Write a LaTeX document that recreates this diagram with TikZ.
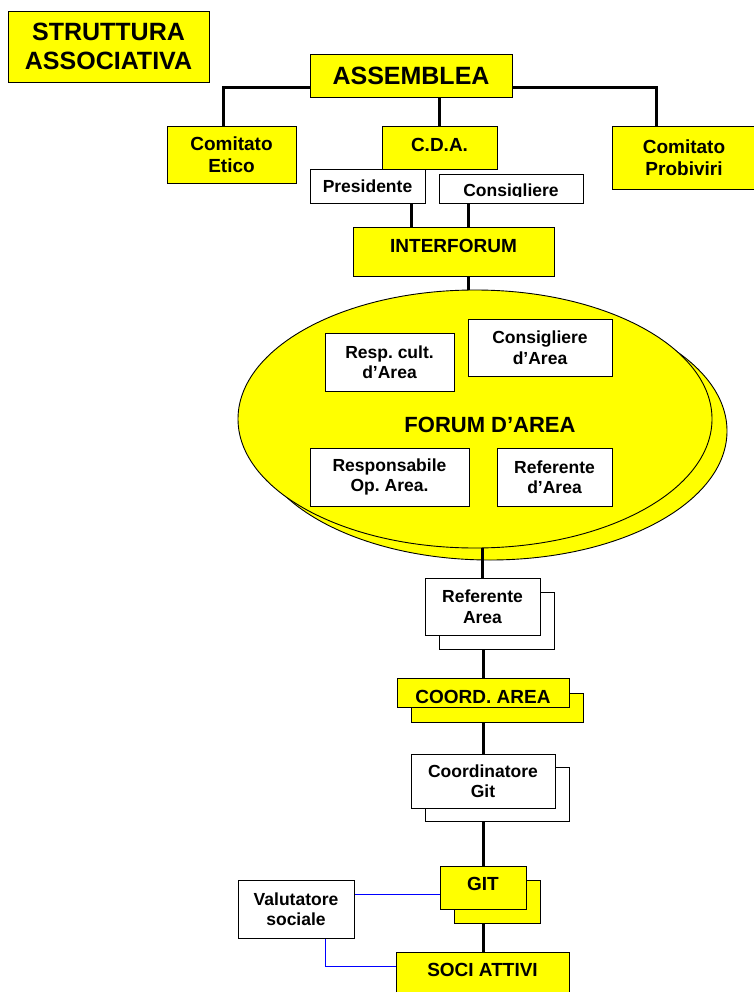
\documentclass[tikz,border=0pt]{standalone}
\usepackage{fontspec}
\setmainfont{Liberation Sans}
\usetikzlibrary{shapes.geometric,shadows}
\pgfdeclarelayer{back}
\pgfdeclarelayer{bg}
\pgfsetlayers{back,bg,main}
\definecolor{yel}{RGB}{255,255,0}
\newcommand{\fsz}[2]{\fontsize{#1}{#2}\selectfont}
\frenchspacing
\tikzset{
  box/.style={draw=black, line width=0.9pt, inner sep=0pt, align=center, font=\bfseries\fsz{17.5}{20.5}},
  ybox/.style={box, fill=yel, font=\bfseries\fsz{19}{22}},
  bigbox/.style={box, fill=yel, font=\bfseries\fsz{25}{28.5}},
  wbox/.style={box, fill=white},
  sz/.style 2 args={minimum width=#1pt, minimum height=#2pt},
  conn/.style={line width=3pt, black},
  bluelink/.style={draw=blue, line width=0.9pt},
  shad/.style={copy shadow={shadow xshift=14pt, shadow yshift=-14pt}},
  ell/.style={ellipse, draw=black, line width=0.9pt, fill=yel, inner sep=0pt, minimum width=474pt, minimum height=258pt},
}
\begin{document}
\begin{tikzpicture}[x=1pt,y=-1pt]
\useasboundingbox (0,0) rectangle (753,992);

% top
\node[bigbox, sz={201}{71}] (title) at (108.5,46.5) {STRUTTURA\\ASSOCIATIVA};
\node[bigbox, sz={202}{43}] (assem) at (411,75.5) {ASSEMBLEA};
\node[ybox, sz={129}{57}] (etico) at (231.5,154.5) {Comitato\\Etico};
\node[ybox, sz={115}{43}, text depth=6pt] (cda) at (439.5,147.5) {C.D.A.};
\node[ybox, sz={144}{63}] (probi) at (684,157.5) {Comitato\\Probiviri};
\node[wbox, sz={115}{34}] (pres) at (367.5,186) {Presidente};
\node[wbox, sz={144}{29}, path picture={
    \clip ([yshift=6pt]path picture bounding box.south west) rectangle (path picture bounding box.north east);
    \node[font=\bfseries\fsz{17.5}{20.5}, anchor=base] at ([yshift=-8pt]path picture bounding box.center) {Consigliere};
  }] (cons) at (511,188.5) {};
\node[ybox, sz={201}{49}, text depth=12pt] (inter) at (453.5,251.5) {INTERFORUM};

% forum
\begin{pgfonlayer}{back}
\node[ell] (feback) at (490,431) {};
\end{pgfonlayer}
\node[ell] (fe) at (475,419) {};
\node[wbox, sz={129}{58}] (respcult) at (389.5,362) {Resp. cult.\\d’Area};
\node[wbox, sz={144}{57}] (consarea) at (540,347.5) {Consigliere\\d’Area};
\node[font=\bfseries\fsz{22}{25}] (forum) at (490,425) {FORUM D’AREA};
\node[wbox, sz={159}{58}] (respop) at (389.5,477) {Responsabile\\Op. Area.};
\node[wbox, sz={115}{58}] (refdarea) at (554.5,477) {Referente\\d’Area};

% lower chain
\node[wbox, sz={115}{57}, shad] (refarea) at (482.5,606.5) {Referente\\Area};
\node[ybox, sz={172}{29}, text height=22.6pt, copy shadow={shadow xshift=14pt, shadow yshift=-15pt}] (coord) at (483,692.5) {COORD. AREA};
\node[wbox, sz={144}{54}, copy shadow={shadow xshift=14pt, shadow yshift=-13pt}] (coordgit) at (483,781) {Coordinatore\\Git};
\node[ybox, sz={86}{43}, text depth=7pt, shad] (git) at (483,887.5) {GIT};
\node[wbox, sz={116}{58}] (val) at (296,909) {Valutatore\\sociale};
\node[ybox, sz={173}{48}, text depth=12pt] (soci) at (482.5,976) {SOCI ATTIVI};

\begin{pgfonlayer}{bg}
\draw[conn] ([yshift=-12.5pt]assem.west) -| ([xshift=-8.5pt]etico.north);
\draw[conn] ([yshift=-12.5pt]assem.east) -| ([xshift=-28pt]probi.north);
\draw[conn] (cda.north) -- (cda.north |- assem.south);
\draw[conn] ([xshift=43.5pt]pres.south) -- ([xshift=43.5pt]pres.south |- inter.north);
\draw[conn] ([xshift=-43pt]cons.south) -- ([xshift=-43pt]cons.south |- inter.north);
\draw[conn] ([xshift=14.5pt]inter.south) -- ([xshift=14.5pt]inter.south |- fe.center);
\draw[conn] (refarea.north) -- (refarea.north |- fe.center);
\draw[conn] (coord.north) -- (coord.north |- refarea.south);
\draw[conn] (coord.south) -- (coordgit.north);
\draw[conn] (coordgit.south) -- (git.north);
\draw[conn] (git.south) -- (git.south |- soci.north);
\draw[bluelink] ([yshift=15pt]val.east) -- ([yshift=15pt]val.east -| git.west);
\draw[bluelink] ([xshift=29pt]val.south) |- ([yshift=10pt]soci.west);
\end{pgfonlayer}
\end{tikzpicture}
\end{document}
